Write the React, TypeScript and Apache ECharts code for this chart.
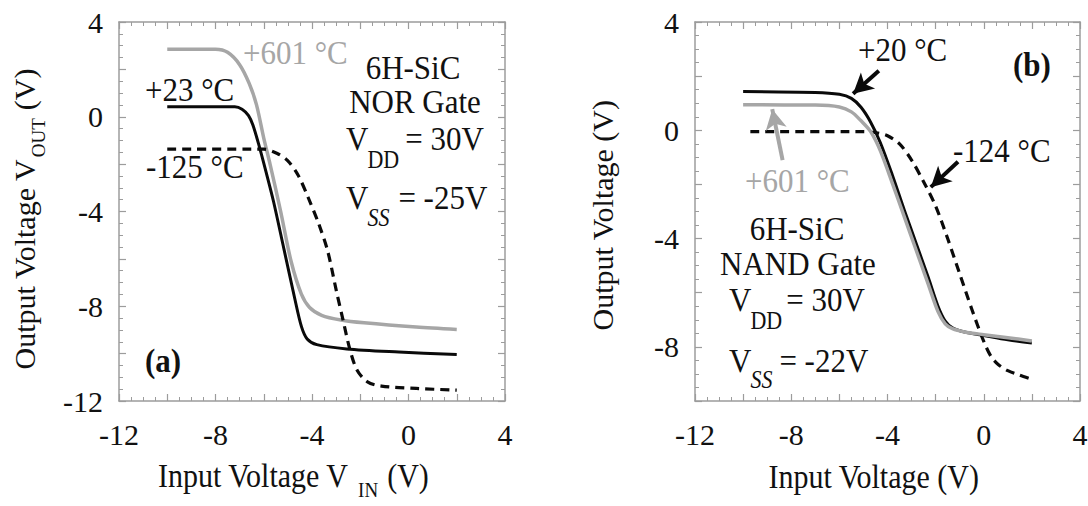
import React, { useEffect, useRef } from 'react';
import * as echarts from 'echarts';

// ---------- data ----------
const xTickValues = [-12, -8, -4, 0, 4];
const yTickValuesA = [-12, -8, -4, 0, 4];
const yTickValuesB = [-8, -4, 0, 4];

// (a) 6H-SiC NOR gate, VDD = 30 V, VSS = -25 V
const norHot601: number[][] = [
  [-10, 2.85], [-8.0, 2.85], [-7.5, 2.72], [-7.0, 2.2], [-6.6, 1.4], [-6.3, 0.5], [-6.0, -0.9],
  [-5.73, -2.04], [-5.3, -3.99], [-4.87, -6.09], [-4.44, -7.49], [-4.1, -8.05], [-3.6, -8.38],
  [-2.8, -8.58], [-1.84, -8.7], [0.32, -8.88], [2, -8.98],
];
const norRoom23: number[][] = [
  [-10, 0.42], [-7.2, 0.42], [-6.9, 0.32], [-6.63, 0.05], [-6.45, -0.35], [-6.2, -1.2], [-5.9, -2.35],
  [-5.59, -3.6], [-5.16, -5.6], [-4.72, -7.65], [-4.44, -8.85], [-4.2, -9.38], [-3.8, -9.62],
  [-2.56, -9.8], [-0.4, -9.93], [2, -10.04],
];
const norCold125: number[][] = [
  [-10, -1.37], [-6.0, -1.37], [-5.44, -1.55], [-5.01, -1.85], [-4.58, -2.46], [-4.15, -3.43],
  [-3.71, -4.55], [-3.35, -5.67], [-2.99, -7.35], [-2.71, -8.6], [-2.42, -9.86], [-2.13, -10.7],
  [-1.7, -11.19], [-1.12, -11.37], [0.32, -11.47], [2, -11.54],
];

// (b) 6H-SiC NAND gate, VDD = 30 V, VSS = -22 V
const nandRoom20: number[][] = [
  [-10, 1.43], [-7, 1.4], [-6, 1.33], [-5.5, 1.18], [-5.1, 0.85], [-4.7, 0.3], [-4.3, -0.45],
  [-3.8, -1.65], [-3.3, -2.95], [-2.8, -4.2], [-2.3, -5.45], [-1.9, -6.5], [-1.6, -7.05],
  [-1.3, -7.3], [-0.8, -7.45], [0, -7.58], [1, -7.74], [2, -7.86],
];
const nandHot601: number[][] = [
  [-10, 0.94], [-7, 0.93], [-6, 0.86], [-5.5, 0.68], [-5.1, 0.35], [-4.7, -0.05], [-4.3, -0.75],
  [-3.8, -1.95], [-3.3, -3.2], [-2.8, -4.45], [-2.3, -5.7], [-1.9, -6.7], [-1.6, -7.15],
  [-1.3, -7.33], [-0.8, -7.45], [0, -7.55], [1, -7.66], [2, -7.78],
];
const nandCold124: number[][] = [
  [-9.7, -0.05], [-5.0, -0.05], [-4.4, -0.1], [-4.0, -0.2], [-3.5, -0.5], [-3.0, -1.1],
  [-2.5, -1.9], [-2.0, -2.8], [-1.5, -4.0], [-1.0, -5.3], [-0.5, -6.6], [0, -7.8],
  [0.3, -8.35], [0.6, -8.65], [1.0, -8.88], [1.5, -9.05], [2, -9.2],
];

// annotation arrows (data coordinates, panel b): [tail, head]
const arrow20: number[][] = [[-4.36, 2.2], [-5.43, 1.35]];
const arrow124: number[][] = [[-1.07, -1.16], [-2.2, -2.1]];
const arrow601: number[][] = [[-8.36, -1.1], [-8.79, 0.78]];

// ---------- styling ----------
const FONT = '"Liberation Serif", "Times New Roman", serif';
const BLACK = '#0a0a0a';
const GRAY = '#a6a6a6';
const FRAME = '#9c9c9c';
const STRETCH = 1.12;

let measureCtx: CanvasRenderingContext2D | null = null;
function measure(text: string, font: string): number {
  if (!measureCtx) measureCtx = document.createElement('canvas').getContext('2d');
  if (!measureCtx) return text.length * 15;
  measureCtx.font = font;
  return measureCtx.measureText(text).width;
}

type Part = { t: string; s?: number; dy?: number; gap?: number; italic?: boolean; bold?: boolean; color?: string };

function richText(
  parts: Part[], x: number, y: number, anchor: 'left' | 'center', base: number, color: string,
  rotation = 0, stretch = STRETCH,
) {
  const fonts = parts.map((p) => `${p.italic ? 'italic ' : ''}${p.bold ? 'bold ' : ''}${p.s ?? base}px ${FONT}`);
  const widths = parts.map((p, i) => measure(p.t, fonts[i]));
  const total = widths.reduce((a, b) => a + b, 0) + parts.reduce((a, p) => a + (p.gap ?? 0), 0);
  let cursor = anchor === 'center' ? -total / 2 : 0;
  const children = parts.map((p, i) => {
    cursor += p.gap ?? 0;
    const el = {
      type: 'text',
      x: cursor,
      y: p.dy ?? 0,
      scaleY: stretch,
      silent: true,
      style: {
        text: p.t,
        font: fonts[i],
        fill: p.color ?? color,
        textAlign: 'left',
        textVerticalAlign: 'middle',
        align: 'left',
        verticalAlign: 'middle',
      },
    };
    cursor += widths[i];
    return el;
  });
  return { type: 'group', x, y, rotation, silent: true, children };
}

function makeXAxes(gridIndex: number) {
  const base: any = {
    type: 'value',
    gridIndex,
    min: -12,
    max: 4,
    interval: 2,
    axisLine: { show: true, onZero: false, lineStyle: { color: FRAME, width: 1.5 } },
    axisTick: { show: true, inside: true, length: 7, lineStyle: { color: FRAME, width: 1.2 } },
    minorTick: { show: true, splitNumber: 4, length: 4, lineStyle: { color: FRAME, width: 1 } },
    splitLine: { show: false },
    minorSplitLine: { show: false },
  };
  return [
    {
      ...base,
      position: 'bottom',
      axisLabel: {
        show: true,
        margin: 18,
        fontFamily: FONT,
        fontSize: 30,
        color: '#111',
        showMinLabel: true,
        showMaxLabel: true,
        formatter: (v: number) => (xTickValues.includes(v) ? String(v) : ''),
      },
    },
    { ...base, position: 'top', axisLabel: { show: false } },
  ];
}

function makeYAxes(gridIndex: number, min: number, labels: number[]) {
  const base: any = {
    type: 'value',
    gridIndex,
    min,
    max: 4,
    interval: 2,
    axisLine: { show: true, onZero: false, lineStyle: { color: FRAME, width: 1.5 } },
    axisTick: { show: true, inside: true, length: 7, lineStyle: { color: FRAME, width: 1.2 } },
    minorTick: { show: true, splitNumber: 4, length: 4, lineStyle: { color: FRAME, width: 1 } },
    splitLine: { show: false },
    minorSplitLine: { show: false },
  };
  return [
    {
      ...base,
      position: 'left',
      axisLabel: {
        show: true,
        margin: 16,
        fontFamily: FONT,
        fontSize: 30,
        color: '#111',
        showMinLabel: true,
        showMaxLabel: true,
        formatter: (v: number) => (labels.includes(v) ? String(v) : ''),
      },
    },
    { ...base, position: 'right', axisLabel: { show: false } },
  ];
}

function lineSeries(axis: number, data: number[][], color: string, width: number, dashed: boolean, extra: any = {}) {
  return {
    type: 'line',
    xAxisIndex: axis,
    yAxisIndex: axis,
    data,
    showSymbol: false,
    symbol: 'none',
    smooth: 0.3,
    silent: true,
    lineStyle: { color, width, type: dashed ? [9, 6] : 'solid', cap: 'butt', join: 'round' },
    ...extra,
  };
}

function arrowMark(pts: number[][], color: string) {
  return {
    silent: true,
    symbol: ['none', 'arrow'],
    symbolSize: [16, 20],
    label: { show: false },
    emphasis: { disabled: true },
    lineStyle: { color, width: 4, type: 'solid' },
    data: [[{ coord: pts[0] }, { coord: pts[1] }]],
  };
}

export default function App() {
  const ref = useRef<HTMLDivElement>(null);

  useEffect(() => {
    if (!ref.current) return;
    const chart = echarts.init(ref.current, undefined, { renderer: 'svg' });

    const graphics: any[] = [
      // axis titles
      richText([{ t: 'Input Voltage V' }, { t: 'IN', s: 19, dy: 14, gap: 9 }, { t: '(V)', gap: 9 }], 158, 476, 'left', 30, '#111'),
      richText([{ t: 'Input Voltage (V)' }], 874, 477, 'center', 30, '#111'),
      richText([{ t: 'Output Voltage V' }, { t: 'OUT', s: 19, dy: 14, gap: 1 }, { t: '(V)', gap: 8 }], 24, 219, 'center', 30, '#111', Math.PI / 2, 1),
      richText([{ t: 'Output Voltage (V)' }], 602, 215, 'center', 30, '#111', Math.PI / 2, 1),

      // panel (a) annotations
      richText([{ t: '+601 \u00B0C' }], 243, 52, 'left', 31, GRAY),
      richText([{ t: '+23 \u00B0C' }], 145, 89, 'left', 31, '#111'),
      richText([{ t: '-125 \u00B0C' }], 146, 166, 'left', 31, '#111'),
      richText([{ t: '6H-SiC' }], 413, 67, 'center', 31, '#111'),
      richText([{ t: 'NOR Gate' }], 415, 101, 'center', 31, '#111'),
      richText([{ t: 'V' }, { t: 'DD', s: 22, dy: 22, gap: -1 }, { t: '= 30V', gap: 6 }], 346, 138, 'left', 31, '#111'),
      richText([{ t: 'V' }, { t: 'SS', s: 22, dy: 21, gap: -1, italic: true }, { t: '= -25V', gap: 9 }], 346, 197, 'left', 31, '#111'),
      richText([{ t: '(a)', bold: true }], 145, 360, 'left', 31, '#111'),

      // panel (b) annotations
      richText([{ t: '+20 \u00B0C' }], 858, 49, 'left', 31, '#111'),
      richText([{ t: '(b)', bold: true }], 1013, 64, 'left', 31, '#111'),
      richText([{ t: '-124 \u00B0C' }], 953, 150, 'left', 31, '#111'),
      richText([{ t: '+601 \u00B0C' }], 745, 180, 'left', 31, GRAY),
      richText([{ t: '6H-SiC' }], 797, 228, 'center', 31, '#111'),
      richText([{ t: 'NAND Gate' }], 798, 263, 'center', 31, '#111'),
      richText([{ t: 'V' }, { t: 'DD', s: 22, dy: 22, gap: -1 }, { t: '= 30V', gap: 4 }], 729, 299, 'left', 31, '#111'),
      richText([{ t: 'V' }, { t: 'SS', s: 22, dy: 20, gap: -1, italic: true }, { t: '= -22V', gap: 7 }], 729, 360, 'left', 31, '#111'),
    ];

    chart.setOption({
      animation: false,
      backgroundColor: '#ffffff',
      grid: [
        { left: 119, top: 22, width: 386, height: 379, containLabel: false, outerBoundsMode: 'none' },
        { left: 695, top: 22, width: 385, height: 379, containLabel: false, outerBoundsMode: 'none' },
      ],
      xAxis: [...makeXAxes(0), ...makeXAxes(1)],
      yAxis: [...makeYAxes(0, -12, yTickValuesA), ...makeYAxes(1, -10, yTickValuesB)],
      series: [
        lineSeries(0, norHot601, GRAY, 3.5, false, { z: 2 }),
        lineSeries(0, norCold125, BLACK, 3.2, true, { z: 3 }),
        lineSeries(0, norRoom23, BLACK, 3, false, { z: 4 }),
        lineSeries(2, nandCold124, BLACK, 3.2, true, { z: 3, markLine: arrowMark(arrow124, BLACK) }),
        lineSeries(2, nandRoom20, BLACK, 3, false, { z: 2, markLine: arrowMark(arrow20, BLACK) }),
        lineSeries(2, nandHot601, GRAY, 3.5, false, { z: 4, markLine: arrowMark(arrow601, GRAY) }),
      ],
      graphic: graphics,
    });

    return () => chart.dispose();
  }, []);

  return (
    <div
      ref={ref}
      style={{ position: 'fixed', left: 0, top: 0, width: 1088, height: 506, background: '#fff' }}
    />
  );
}
